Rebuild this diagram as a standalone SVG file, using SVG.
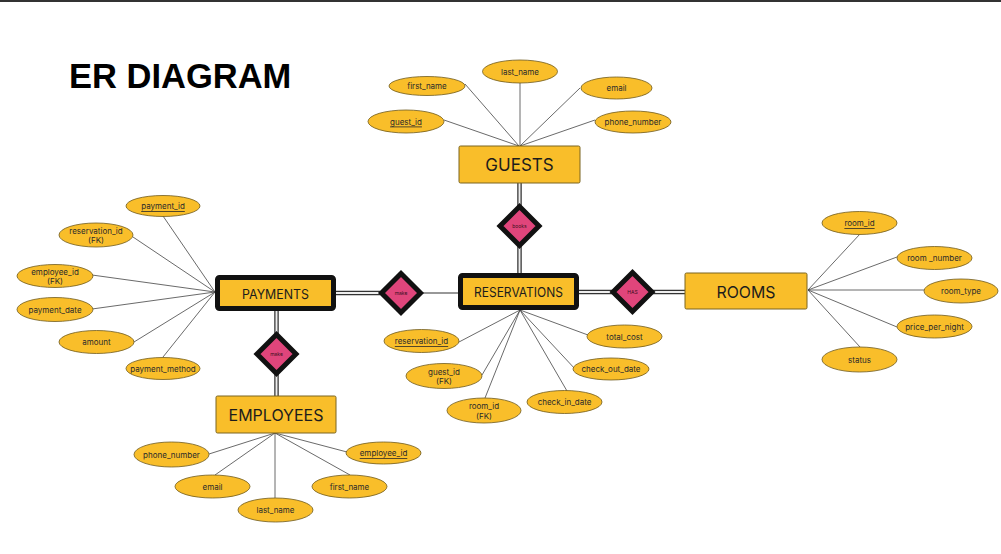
<svg xmlns="http://www.w3.org/2000/svg" width="1001" height="554" viewBox="0 0 1001 554">
  <style>
    .attr { fill: #F9BE2A; stroke: #6E5A1E; stroke-width: 0.8; }
    .atxt { font-family: Inter, "Liberation Sans", sans-serif; font-size: 8px; fill: #2a2a2a; text-anchor: middle; dominant-baseline: central; }
    .pk { text-decoration: underline; }
    .ent { fill: #F9BE2A; stroke: #7A6420; stroke-width: 1; }
    .weak { fill: #F9BE2A; stroke: #111; stroke-width: 5; }
    .etxt { font-family: Inter, "Liberation Sans", sans-serif; fill: #1c1c1c; text-anchor: middle; dominant-baseline: central; }
    .rel { fill: #E0457B; stroke: #111; stroke-width: 5; stroke-linejoin: miter; }
    .rtxt { font-family: Inter, "Liberation Sans", sans-serif; font-size: 5px; fill: #3a1020; text-anchor: middle; dominant-baseline: central; }
    .link { stroke: #444; stroke-width: 0.8; fill: none; }
    .dbl-o { stroke: #333; stroke-width: 4.5; fill: none; }
    .dbl-i { stroke: #eee; stroke-width: 2; fill: none; }
    .single { stroke: #333; stroke-width: 1.2; fill: none; }
  </style>

  <rect x="0" y="0" width="1001" height="554" fill="#fff"/>
  <rect x="0" y="0" width="1001" height="2" fill="#333"/>

  <text x="69" y="88" font-family="'Liberation Sans', Arial, sans-serif" font-weight="bold" font-size="34.5" fill="#000">ER DIAGRAM</text>

  <!-- connectors -->
  <g id="connectors">
    <!-- GUESTS attributes -->
    <path class="link" d="M519 146 L465 84 M520 146 L520 83 M520 146 L580 88 M519 146 L444 120 M520 146 L595 120"/>
    <!-- PAYMENTS attributes -->
    <path class="link" d="M215 292 L163 216 M215 292 L133 237 M215 292 L92 275 M215 292 L92 309 M215 292 L134 342 M215 292 L163 357"/>
    <!-- ROOMS attributes -->
    <path class="link" d="M808 290 L860 234 M808 290 L897 257 M808 290 L924 290 M808 290 L897 327 M808 290 L860 347"/>
    <!-- RESERVATIONS attributes -->
    <path class="link" d="M520 310 L459 342 M520 310 L482 375 M520 310 L485 398 M520 310 L567 391 M520 310 L576 370 M520 310 L588 335"/>
    <!-- EMPLOYEES attributes -->
    <path class="link" d="M275 433 L209 454 M275 433 L215 475 M275 433 L275 498 M275 433 L350 475 M275 433 L347 452"/>

    <!-- relationship links -->
    <path class="dbl-o" d="M519.5 183 V206 M519.5 246 V274"/>
    <path class="dbl-i" d="M519.5 183 V206 M519.5 246 V274"/>
    <path class="dbl-o" d="M336 293 H380"/>
    <path class="dbl-i" d="M336 293 H380"/>
    <path class="single" d="M422 293 H459"/>
    <path class="dbl-o" d="M579 292 H612 M653 292 H685"/>
    <path class="dbl-i" d="M579 292 H612 M653 292 H685"/>
    <path class="dbl-o" d="M276.5 311 V334 M276.5 374 V396"/>
    <path class="dbl-i" d="M276.5 311 V334 M276.5 374 V396"/>
  </g>

  <!-- entities -->
  <g id="guests">
    <rect class="ent" x="459" y="146" width="121" height="37" rx="1.5"/>
    <text class="etxt" x="519.5" y="165" font-size="17">GUESTS</text>
  </g>
  <g id="payments">
    <rect class="weak" x="217.5" y="277.5" width="116" height="31" rx="2"/>
    <text class="etxt" x="275.5" y="293.5" font-size="13.5" textLength="67" lengthAdjust="spacingAndGlyphs">PAYMENTS</text>
  </g>
  <g id="reservations">
    <rect class="weak" x="460.5" y="275.5" width="116" height="32" rx="2"/>
    <text class="etxt" x="518.5" y="292" font-size="13.5" textLength="89" lengthAdjust="spacingAndGlyphs">RESERVATIONS</text>
  </g>
  <g id="rooms">
    <rect class="ent" x="685" y="273" width="122" height="36" rx="1.5"/>
    <text class="etxt" x="746" y="291.5" font-size="16.5" textLength="59" lengthAdjust="spacingAndGlyphs">ROOMS</text>
  </g>
  <g id="employees">
    <rect class="ent" x="216" y="396" width="120" height="37" rx="1.5"/>
    <text class="etxt" x="276" y="414.5" font-size="16">EMPLOYEES</text>
  </g>

  <!-- relationships -->
  <g id="rel-books">
    <path class="rel" d="M519.5 206.5 L539 226 L519.5 245.5 L500 226 Z"/>
    <text class="rtxt" x="519.5" y="226">books</text>
  </g>
  <g id="rel-make-reservation">
    <path class="rel" d="M401 273.5 L420.5 293 L401 312.5 L381.5 293 Z"/>
    <text class="rtxt" x="401" y="293">make</text>
  </g>
  <g id="rel-has">
    <path class="rel" d="M632.5 272.5 L652 292 L632.5 311.5 L613 292 Z"/>
    <text class="rtxt" x="632.5" y="292">HAS</text>
  </g>
  <g id="rel-make-employee">
    <path class="rel" d="M276.5 334.5 L296 354 L276.5 373.5 L257 354 Z"/>
    <text class="rtxt" x="276.5" y="354">make</text>
  </g>

  <!-- GUESTS attributes -->
  <g id="guest-first-name"><ellipse class="attr" cx="427" cy="86" rx="38" ry="9.5"/><text class="atxt" x="427" y="86">first_name</text></g>
  <g id="guest-last-name"><ellipse class="attr" cx="520" cy="71.5" rx="37.5" ry="11.5"/><text class="atxt" x="520" y="71.5">last_name</text></g>
  <g id="guest-email"><ellipse class="attr" cx="616.5" cy="88" rx="35.5" ry="11"/><text class="atxt" x="616.5" y="88">email</text></g>
  <g id="guest-id"><ellipse class="attr" cx="406" cy="121.5" rx="38" ry="11.5"/><text class="atxt pk" x="406" y="121.5">guest_id</text></g>
  <g id="guest-phone"><ellipse class="attr" cx="633" cy="122" rx="38" ry="11"/><text class="atxt" x="633" y="122">phone_number</text></g>

  <!-- PAYMENTS attributes -->
  <g id="pay-id"><ellipse class="attr" cx="163" cy="206" rx="37" ry="10.5"/><text class="atxt pk" x="163" y="206">payment_id</text></g>
  <g id="pay-reservation-id"><ellipse class="attr" cx="96" cy="235" rx="37" ry="12"/><text class="atxt" x="96" y="230.5">reservation_id</text><text class="atxt" x="96" y="240">(FK)</text></g>
  <g id="pay-employee-id"><ellipse class="attr" cx="55" cy="276" rx="38" ry="11.5"/><text class="atxt" x="55" y="271.5">employee_id</text><text class="atxt" x="55" y="281">(FK)</text></g>
  <g id="pay-date"><ellipse class="attr" cx="55" cy="309.5" rx="38" ry="12"/><text class="atxt" x="55" y="309.5">payment_date</text></g>
  <g id="pay-amount"><ellipse class="attr" cx="96.5" cy="342" rx="37.5" ry="11.5"/><text class="atxt" x="96.5" y="342">amount</text></g>
  <g id="pay-method"><ellipse class="attr" cx="163" cy="368.5" rx="37" ry="11"/><text class="atxt" x="163" y="368.5">payment_method</text></g>

  <!-- ROOMS attributes -->
  <g id="room-id"><ellipse class="attr" cx="859.5" cy="223" rx="37.5" ry="11.5"/><text class="atxt pk" x="859.5" y="223">room_id</text></g>
  <g id="room-number"><ellipse class="attr" cx="934.5" cy="258" rx="37.5" ry="11.5"/><text class="atxt" x="934.5" y="258">room _number</text></g>
  <g id="room-type"><ellipse class="attr" cx="961" cy="291" rx="37" ry="12"/><text class="atxt" x="961" y="291">room_type</text></g>
  <g id="room-price"><ellipse class="attr" cx="934.5" cy="326.5" rx="37.5" ry="11.5"/><text class="atxt" x="934.5" y="326.5">price_per_night</text></g>
  <g id="room-status"><ellipse class="attr" cx="859.5" cy="359.5" rx="37.5" ry="12.5"/><text class="atxt" x="859.5" y="359.5">status</text></g>

  <!-- RESERVATIONS attributes -->
  <g id="res-id"><ellipse class="attr" cx="421.5" cy="341" rx="37.5" ry="11.5"/><text class="atxt pk" x="421.5" y="341">reservation_id</text></g>
  <g id="res-guest-id"><ellipse class="attr" cx="444" cy="376" rx="38" ry="12.5"/><text class="atxt" x="444" y="371.5">guest_id</text><text class="atxt" x="444" y="381">(FK)</text></g>
  <g id="res-room-id"><ellipse class="attr" cx="484" cy="410.5" rx="37" ry="12.5"/><text class="atxt" x="484" y="406">room_id</text><text class="atxt" x="484" y="415.5">(FK)</text></g>
  <g id="res-check-in"><ellipse class="attr" cx="564.5" cy="402" rx="37.5" ry="11.5"/><text class="atxt" x="564.5" y="402">check_in_date</text></g>
  <g id="res-check-out"><ellipse class="attr" cx="611" cy="369" rx="38" ry="11"/><text class="atxt" x="611" y="369">check_out_date</text></g>
  <g id="res-total-cost"><ellipse class="attr" cx="624.5" cy="336.5" rx="37.5" ry="11.5"/><text class="atxt" x="624.5" y="336.5">total_cost</text></g>

  <!-- EMPLOYEES attributes -->
  <g id="emp-phone"><ellipse class="attr" cx="171.5" cy="454.5" rx="37.5" ry="12.5"/><text class="atxt" x="171.5" y="454.5">phone_number</text></g>
  <g id="emp-email"><ellipse class="attr" cx="212.5" cy="486.5" rx="37.5" ry="11.5"/><text class="atxt" x="212.5" y="486.5">email</text></g>
  <g id="emp-last-name"><ellipse class="attr" cx="275.5" cy="510" rx="37.5" ry="12"/><text class="atxt" x="275.5" y="510">last_name</text></g>
  <g id="emp-first-name"><ellipse class="attr" cx="349.5" cy="486.5" rx="37.5" ry="11.5"/><text class="atxt" x="349.5" y="486.5">first_name</text></g>
  <g id="emp-id"><ellipse class="attr" cx="383.5" cy="453" rx="37.5" ry="11"/><text class="atxt pk" x="383.5" y="453">employee_id</text></g>
</svg>
